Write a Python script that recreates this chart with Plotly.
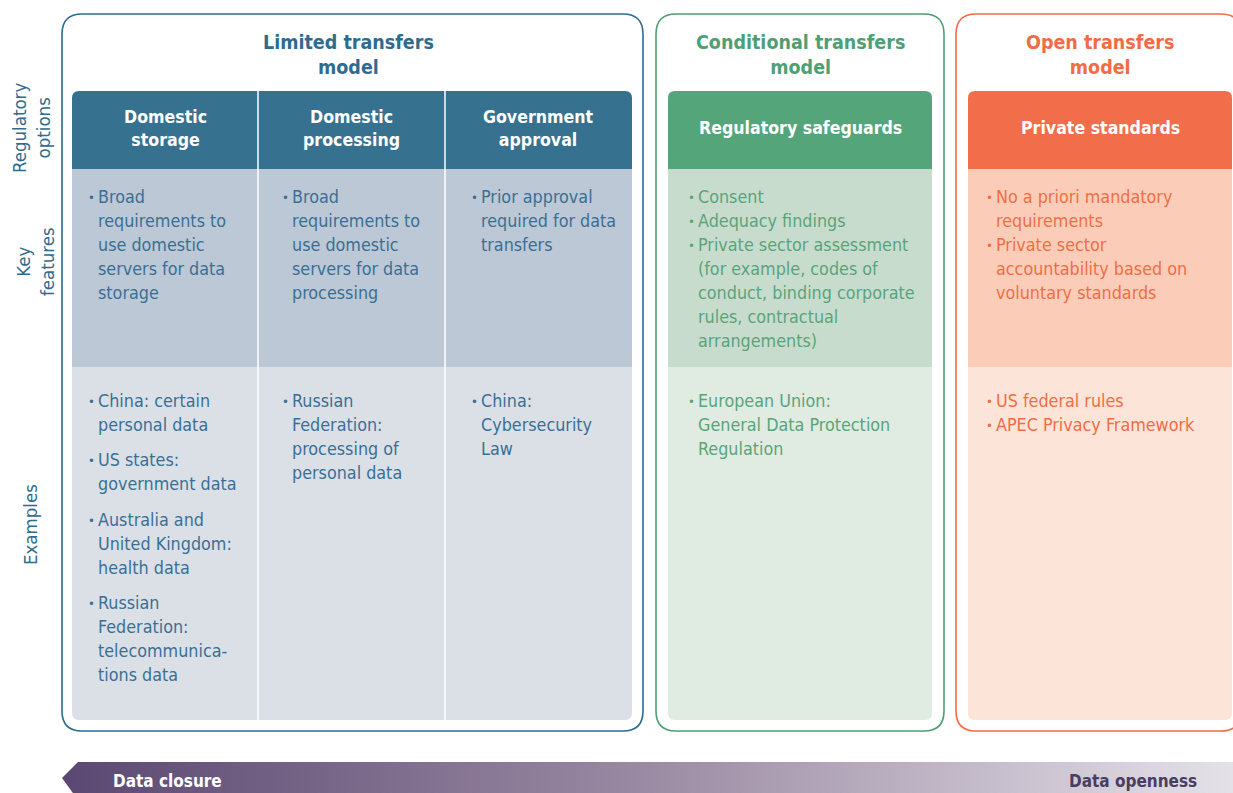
import plotly.graph_objects as go

# ---------------- data ----------------
model_titles = ["Limited transfers<br>model", "Conditional transfers<br>model", "Open transfers<br>model"]
option_titles = ["Domestic<br>storage", "Domestic<br>processing", "Government<br>approval",
                 "Regulatory safeguards", "Private standards"]
key_features = [
    [["Broad", "requirements to", "use domestic", "servers for data", "storage"]],
    [["Broad", "requirements to", "use domestic", "servers for data", "processing"]],
    [["Prior approval", "required for data", "transfers"]],
    [["Consent"], ["Adequacy findings"],
     ["Private sector assessment", "(for example, codes of", "conduct, binding corporate",
      "rules, contractual", "arrangements)"]],
    [["No a priori mandatory", "requirements"],
     ["Private sector", "accountability based on", "voluntary standards"]],
]
examples = [
    [["China: certain", "personal data"], ["US states:", "government data"],
     ["Australia and", "United Kingdom:", "health data"],
     ["Russian", "Federation:", "telecommunica-", "tions data"]],
    [["Russian", "Federation:", "processing of", "personal data"]],
    [["China:", "Cybersecurity", "Law"]],
    [["European Union:", "General Data Protection", "Regulation"]],
    [["US federal rules"], ["APEC Privacy Framework"]],
]
row_labels = ["Regulatory<br>options", "Key<br>features", "Examples"]
scale_labels = ["Data closure", "Data openness"]

# ---------------- styling ----------------
FONT = "DejaVu Sans Condensed, Liberation Sans Narrow, Roboto, sans-serif"
W, H = 1233, 793
BLUE, GREEN, ORANGE = "#2f6b8e", "#4f9f74", "#f26b45"
model_boxes = [(62, 643), (656, 944), (956, 1241)]
model_colors = [BLUE, GREEN, ORANGE]
model_cx = [348, 800, 1100]
header_fill = ["#36718f", "#55a57a", "#f26d4a"]
key_fill = ["#bcc8d5", "#c8dccd", "#fbcdb8"]
ex_fill = ["#dbe0e7", "#e0ebe2", "#fde4d9"]
text_col = ["#3a6f94", "#5aa47b", "#f06d45"]
panels = [(72, 632), (668, 932), (968, 1232)]
col_bounds = [(72, 258), (258, 445), (445, 632), (668, 932), (968, 1232)]
col_model = [0, 0, 0, 1, 2]
bullet_x = [86, 280, 469, 686, 984]
ex_gap = [11.5, 0, 0, 0, 0]
Y_TOP, Y_HEAD, Y_KEY, Y_EX, Y_BOT = 14, 91, 169, 367, 720


def rrect(x0, y0, x1, y1, rtl=0, rtr=0, rbr=0, rbl=0):
    p = f"M{x0+rtl},{y0} L{x1-rtr},{y0} "
    p += f"Q{x1},{y0} {x1},{y0+rtr} " if rtr else ""
    p += f"L{x1},{y1-rbr} "
    p += f"Q{x1},{y1} {x1-rbr},{y1} " if rbr else ""
    p += f"L{x0+rbl},{y1} "
    p += f"Q{x0},{y1} {x0},{y1-rbl} " if rbl else ""
    p += f"L{x0},{y0+rtl} "
    p += f"Q{x0},{y0} {x0+rtl},{y0} " if rtl else ""
    return p + "Z"


shapes, annotations = [], []

# outer model boxes and titles
for i, (x0, x1) in enumerate(model_boxes):
    shapes.append(dict(type="path", path=rrect(x0, Y_TOP, x1, 731, 20, 20, 20, 20),
                       line=dict(color=model_colors[i], width=1.6), fillcolor="white", layer="below"))
    annotations.append(dict(x=model_cx[i], y=55, text=model_titles[i], showarrow=False,
                            xanchor="center", yanchor="middle",
                            font=dict(family=FONT, size=19.5, weight="bold", color=model_colors[i])))

# panel backgrounds
for i, (x0, x1) in enumerate(panels):
    shapes.append(dict(type="path", path=rrect(x0, Y_HEAD, x1, Y_KEY, 7, 7, 0, 0),
                       line=dict(width=0), fillcolor=header_fill[i], layer="below"))
    shapes.append(dict(type="rect", x0=x0, x1=x1, y0=Y_KEY, y1=Y_EX,
                       line=dict(width=0), fillcolor=key_fill[i], layer="below"))
    shapes.append(dict(type="path", path=rrect(x0, Y_EX, x1, Y_BOT, 0, 0, 7, 7),
                       line=dict(width=0), fillcolor=ex_fill[i], layer="below"))

# white column dividers
for xd in (258, 445):
    shapes.append(dict(type="line", x0=xd, x1=xd, y0=Y_HEAD, y1=Y_BOT,
                       line=dict(color="white", width=1.5)))

# column headers
for c, (x0, x1) in enumerate(col_bounds):
    annotations.append(dict(x=(x0 + x1) / 2, y=128, text=option_titles[c], showarrow=False,
                            xanchor="center", yanchor="middle",
                            font=dict(family=FONT, size=17.6, weight="bold", color="white")))

LINE = 24
BODY = 17.8


def place(groups, c, y_start, gap):
    y = y_start
    col = text_col[col_model[c]]
    for g in groups:
        annotations.append(dict(x=bullet_x[c], y=y + 1, text="•", showarrow=False,
                                xanchor="left", yanchor="middle",
                                font=dict(family=FONT, size=13, color=col)))
        for ln in g:
            annotations.append(dict(x=bullet_x[c] + 10, y=y, text=ln, showarrow=False,
                                    xanchor="left", yanchor="middle",
                                    font=dict(family=FONT, size=BODY, color=col)))
            y += LINE
        y += gap


for c in range(5):
    place(key_features[c], c, 196, 0)
    place(examples[c], c, 400, ex_gap[c])

# row labels (rotated)
for lab, yc, xc in zip(row_labels, [128, 262, 525], [31, 35, 30]):
    annotations.append(dict(x=xc, y=yc, text=lab, showarrow=False, textangle=-90,
                            xanchor="center", yanchor="middle",
                            font=dict(family=FONT, size=18.5, color=BLUE)))

fig = go.Figure()

# gradient arrow (closure -> openness)
arrow_x = [62, 78, 1233, 1233, 78, 62]
arrow_y = [778, 762, 762, 800, 800, 778]
fig.add_trace(go.Scatter(x=arrow_x, y=arrow_y, mode="lines", fill="toself",
                         line=dict(width=0), hoverinfo="skip", showlegend=False,
                         fillgradient=dict(type="horizontal",
                                           colorscale=[[0, "#5b4872"], [0.5, "#9b8aa3"], [1, "#e4e1e8"]])))
annotations.append(dict(x=111, y=781, text=scale_labels[0], showarrow=False, xanchor="left",
                        yanchor="middle", font=dict(family=FONT, size=17, weight="bold", color="white")))
annotations.append(dict(x=1199, y=781, text=scale_labels[1], showarrow=False, xanchor="right",
                        yanchor="middle", font=dict(family=FONT, size=17, weight="bold", color="#4b3c62")))

fig.update_layout(
    width=W, height=H, margin=dict(l=0, r=0, t=0, b=0),
    paper_bgcolor="white", plot_bgcolor="white",
    xaxis=dict(range=[0, W], visible=False, fixedrange=True),
    yaxis=dict(range=[H, 0], visible=False, fixedrange=True),
    shapes=shapes, annotations=annotations, showlegend=False,
)
fig.write_html("out.html", config={"displayModeBar": False},
               post_script="document.body.style.margin='0px';document.body.style.overflow='hidden';")
